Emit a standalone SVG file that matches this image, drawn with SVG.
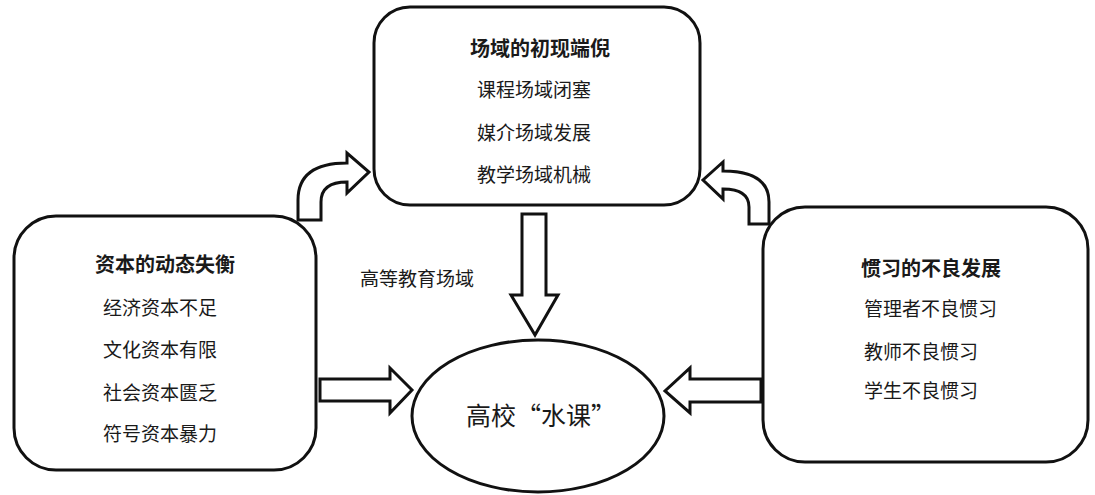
<svg xmlns="http://www.w3.org/2000/svg" width="1095" height="495" viewBox="0 0 1095 495">
<style>
.box{fill:#fff;stroke:#111;stroke-width:3}
.arr{fill:#fff;stroke:#111;stroke-width:3;stroke-linejoin:miter}
text{font-family:"Noto Sans CJK SC","Noto Sans",sans-serif;fill:#1a1a1a;dominant-baseline:central}
.t{font-size:20px;font-weight:bold}
.l{font-size:19px}
</style>
<rect width="1095" height="495" fill="#fff"/>
<g id="connectors">
<path class="arr" d="M298,220 L298,200 Q298,163 347,163 L347,153 L369,172 L347,193 L347,182 Q321,182 321,202 L321,220 Z"/>
<path class="arr" d="M769,224 L769,202 Q769,171 723,171 L723,162 L703,180 L723,199 L723,189 Q749,189 749,207 L749,224 Z"/>
<path class="arr" d="M522,214 L546,214 L546,295 L558,295 L535,335 L511,295 L522,295 Z"/>
<path class="arr" d="M320,379 L390,379 L390,368 L412,390 L390,413 L390,401 L320,401 Z"/>
<path class="arr" d="M761,379 L690,379 L690,368 L665,391 L690,413 L690,402 L761,402 Z"/>
</g>
<g id="node-field">
<rect class="box" x="374" y="7" width="326" height="198" rx="36" ry="36"/>
<text class="t" x="470" y="47">场域的初现端倪</text>
<text class="l" x="477" y="88">课程场域闭塞</text>
<text class="l" x="477" y="131">媒介场域发展</text>
<text class="l" x="477" y="173">教学场域机械</text>
</g>
<g id="node-capital">
<rect class="box" x="14" y="216" width="302" height="254" rx="42" ry="42"/>
<text class="t" x="95" y="263">资本的动态失衡</text>
<text class="l" x="103" y="306">经济资本不足</text>
<text class="l" x="103" y="348">文化资本有限</text>
<text class="l" x="103" y="391">社会资本匮乏</text>
<text class="l" x="103" y="432">符号资本暴力</text>
</g>
<g id="node-habitus">
<rect class="box" x="763" y="207" width="325" height="255" rx="42" ry="42"/>
<text class="t" x="861" y="267">惯习的不良发展</text>
<text class="l" x="864" y="307">管理者不良惯习</text>
<text class="l" x="864" y="350">教师不良惯习</text>
<text class="l" x="864" y="389">学生不良惯习</text>
</g>
<g id="label-higher-ed">
<text class="l" x="360" y="277">高等教育场域</text>
</g>
<g id="node-water">
<ellipse class="box" cx="538" cy="416" rx="126" ry="76"/>
<text x="541" y="414" text-anchor="middle" style="font-size:25px">高校“水课”</text>
</g>
</svg>
